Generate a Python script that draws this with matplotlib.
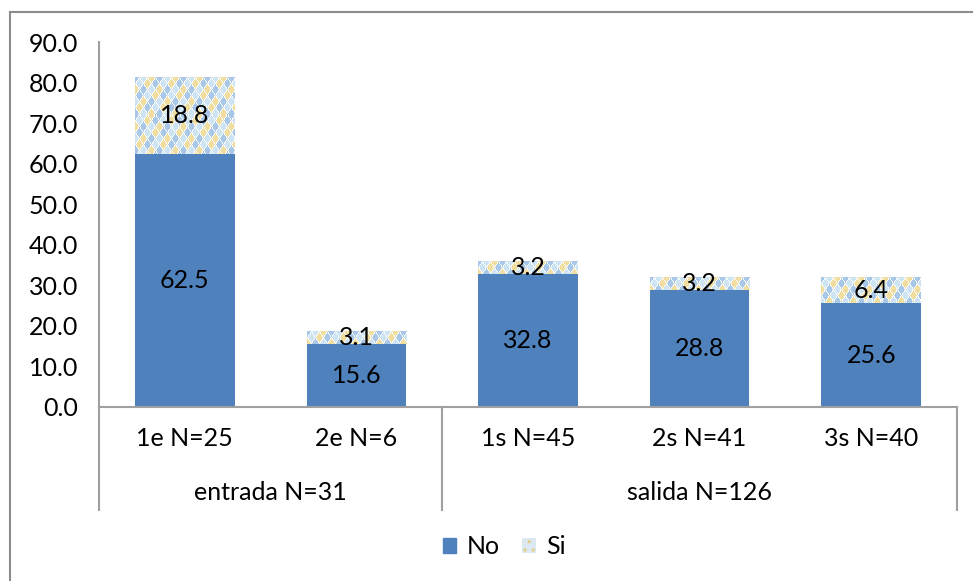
import matplotlib
matplotlib.use("Agg")
import matplotlib.pyplot as plt
import numpy as np
from matplotlib.patches import Patch, Rectangle

# data
categories = ["1e N=25", "2e N=6", "1s N=45", "2s N=41", "3s N=40"]
groups = ["entrada N=31", "salida N=126"]
group_sizes = [2, 3]
no_vals = [62.5, 15.6, 32.8, 28.8, 25.6]
si_vals = [18.8, 3.1, 3.2, 3.2, 6.4]
yticks = [0, 10, 20, 30, 40, 50, 60, 70, 80, 90]

BLUE = "#4F81BD"
GRAY = "#A0A0A0"
plt.rcParams["font.family"] = ["Lato", "DejaVu Sans"]
plt.rcParams["hatch.color"] = "#E6CF8A"
plt.rcParams["hatch.linewidth"] = 1.2
FS = 18


def diamond_pattern(w, h, cw=8.0, ch=12.0):
    """Harlequin pattern like the Excel fill, in pixels."""
    cols = np.array([[169, 200, 232], [240, 222, 160], [207, 228, 242]]) / 255.0
    yy, xx = np.mgrid[0:h, 0:w].astype(float)
    img = np.ones((h, w, 3))
    best = np.full((h, w), 9.0)
    idx = np.zeros((h, w), dtype=int)
    for off in (0.0, 0.5):
        i = np.round(xx / cw - off)
        j = np.round(yy / ch - off)
        d = np.abs(xx / cw - off - i) * 2 + np.abs(yy / ch - off - j) * 2
        k = ((i * 2 + j + (2 if off else 0)) % 3).astype(int)
        m = d < best
        best[m] = d[m]
        idx[m] = k[m]
    inside = best < 0.85
    img[inside] = cols[idx[inside]]
    return img


fig = plt.figure(figsize=(9.73, 5.81), dpi=100)
fig.patches.append(Rectangle((10 / 973, -0.1), 1.2, 1 - 12 / 581 + 0.1,
                             transform=fig.transFigure, fill=False,
                             edgecolor="#8C8C8C", linewidth=1.5))
ax = fig.add_axes([99 / 973, 1 - 407 / 581, (957 - 99) / 973, (407 - 42) / 581])

x = np.arange(len(categories))
width = 0.58
bars_no = ax.bar(x, no_vals, width, color=BLUE, zorder=2)
bars_si = ax.bar(x, si_vals, width, bottom=no_vals, color="none", zorder=2)
ax.set_xlim(-0.5, len(categories) - 0.5)
ax.set_ylim(0, 90)

# fill the "Si" segments with the diamond pattern
fig.canvas.draw()
for b in bars_si:
    x0, y0 = b.get_x(), b.get_y()
    x1, y1 = x0 + b.get_width(), y0 + b.get_height()
    p0 = ax.transData.transform((x0, y0))
    p1 = ax.transData.transform((x1, y1))
    w_px = max(int(round(p1[0] - p0[0])), 1)
    h_px = max(int(round(p1[1] - p0[1])), 1)
    ax.imshow(diamond_pattern(w_px, h_px), extent=(x0, x1, y0, y1),
              aspect="auto", interpolation="nearest", origin="upper", zorder=2)
ax.set_xlim(-0.5, len(categories) - 0.5)
ax.set_ylim(0, 90)

ax.bar_label(bars_no, labels=[f"{v:.1f}" for v in no_vals], label_type="center",
             fontsize=FS, zorder=3)
ax.bar_label(bars_si, labels=[f"{v:.1f}" for v in si_vals], label_type="center",
             fontsize=FS, zorder=3)

ax.set_yticks(yticks)
ax.set_yticklabels([f"{v:.1f}" for v in yticks], fontsize=FS)
ax.tick_params(axis="y", length=0, pad=15)
ax.set_xticks([])
for s in ["top", "right"]:
    ax.spines[s].set_visible(False)
for s in ["left", "bottom"]:
    ax.spines[s].set_color(GRAY)
    ax.spines[s].set_linewidth(1.5)

# multi-level category axis
tr = ax.get_xaxis_transform()
ax_h = 407 - 42
for xi, lab in zip(x, categories):
    ax.text(xi, -31 / ax_h, lab, transform=tr, ha="center", va="center", fontsize=FS)
edges = np.concatenate([[0], np.cumsum(group_sizes)]) - 0.5
for k, g in enumerate(groups):
    ax.text((edges[k] + edges[k + 1]) / 2, -85 / ax_h, g, transform=tr,
            ha="center", va="center", fontsize=FS)
for e in edges:
    ax.plot([e, e], [0, -103 / ax_h], transform=tr, color=GRAY, lw=1.5,
            clip_on=False)

# legend
si_handle = Patch(facecolor="#DCE9F2", edgecolor="#E6CF8A", hatch="..", lw=0)
fig.legend([Patch(color=BLUE), si_handle], ["No", "Si"], loc="center",
           bbox_to_anchor=(504 / 973, 1 - 547 / 581), ncol=2, frameon=False,
           fontsize=FS, handlelength=0.55, handleheight=0.55, handletextpad=0.4,
           columnspacing=0.9)

fig.savefig("out.png", dpi=100)
